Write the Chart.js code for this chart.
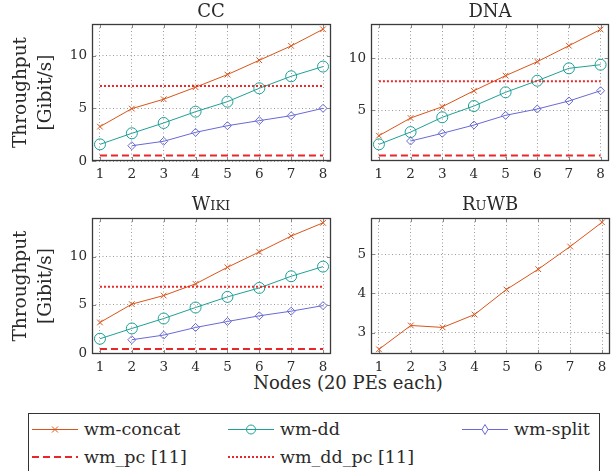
<!DOCTYPE html>
<html>
<head>
<meta charset="utf-8">
<script src="https://cdn.jsdelivr.net/npm/chart.js@4.4.1/dist/chart.umd.min.js"></script>
<style>
  body { margin: 0; background: #fff; width: 615px; height: 471px; position: relative; overflow: hidden;
         font-family: 'DejaVu Serif', serif; color: #2a2a2a; }
  canvas.panel { position: absolute; }
  .ttl { position: absolute; font-size: 18px; line-height: 20px; transform: translateX(-50%); white-space: nowrap; }
  .sc { font-variant: small-caps; }
  #xlabel { position: absolute; left: 348px; top: 373px; font-size: 18px; line-height: 20px; transform: translateX(-50%); white-space: nowrap; }
  #legend { position: absolute; left: 28px; top: 413px; width: 572px; height: 62px; box-sizing: border-box;
            border: 1px solid #333; }
  .entry { position: absolute; height: 20px; font-size: 17.5px; line-height: 20px; white-space: nowrap; }
  .entry canvas { position: absolute; left: 0; top: 3px; }
  .entry span { position: absolute; left: 52px; top: 0; }
</style>
</head>
<body>
<div id="xlabel">Nodes (20 PEs each)</div>
<div id="legend"></div>
<script>
// values (Gibit/s)
var nodes = [1, 2, 3, 4, 5, 6, 7, 8]
var xTicks = [1, 2, 3, 4, 5, 6, 7, 8]
var seriesNames = ['wm-concat', 'wm-dd', 'wm-split', 'wm_pc [11]', 'wm_dd_pc [11]']

var ccConcat = [3.26, 4.97, 5.86, 7.0, 8.2, 9.56, 10.92, 12.5]
var ccDD = [1.58, 2.63, 3.61, 4.68, 5.63, 6.9, 8.04, 8.96]
var ccSplit = [null, 1.45, 1.87, 2.72, 3.35, 3.83, 4.3, 5.0]
var ccPC = 0.52
var ccDDPC = 7.12
var ccYTicks = [0, 5, 10]

var dnaConcat = [2.52, 4.23, 5.32, 6.87, 8.33, 9.68, 11.23, 12.8]
var dnaDD = [1.68, 2.87, 4.3, 5.39, 6.72, 7.84, 9.04, 9.39]
var dnaSplit = [null, 2.0, 2.75, 3.55, 4.49, 5.1, 5.88, 6.87]
var dnaPC = 0.6
var dnaDDPC = 7.78
var dnaYTicks = [5, 10]

var wikiConcat = [3.17, 5.07, 5.96, 7.17, 8.89, 10.48, 12.13, 13.5]
var wikiDD = [1.48, 2.55, 3.58, 4.72, 5.82, 6.75, 7.96, 8.96]
var wikiSplit = [null, 1.38, 1.86, 2.65, 3.27, 3.86, 4.34, 4.92]
var wikiPC = 0.41
var wikiDDPC = 6.86
var wikiYTicks = [0, 5, 10]

var ruwbConcat = [2.57, 3.18, 3.13, 3.46, 4.1, 4.62, 5.2, 5.82]
var ruwbYTicks = [3, 4, 5]

var cConcat = 'rgb(217, 84, 26)'
var cDD = 'rgb(30, 160, 150)'
var cSplit = 'rgb(104, 104, 214)'
var cPC = 'rgb(232, 40, 40)'
var gridColor = 'rgba(120, 120, 120, 0.75)'
var textColor = '#2a2a2a'
var fontFamily = "'DejaVu Serif', serif"

function markSet(label, values, color, style, radius) {
  return {
    label: label,
    data: nodes.map(function (n, i) { return { x: n, y: values[i] } }),
    borderColor: color,
    backgroundColor: 'rgba(0,0,0,0)',
    borderWidth: 1,
    pointStyle: style,
    pointRadius: radius,
    pointBorderColor: color,
    pointBorderWidth: 1,
    pointBackgroundColor: 'rgba(0,0,0,0)',
    tension: 0
  }
}

function flatSet(label, value, color, dash) {
  return {
    label: label,
    data: [{ x: nodes[0], y: value }, { x: nodes[nodes.length - 1], y: value }],
    borderColor: color,
    borderWidth: 2,
    borderDash: dash,
    pointRadius: 0,
    tension: 0
  }
}

// box around plot area plus inward tick marks, pgfplots style
var framePlugin = {
  id: 'frame',
  afterDraw: function (chart) {
    var a = chart.chartArea
    var ctx = chart.ctx
    var sx = chart.scales.x
    var sy = chart.scales.y
    ctx.save()
    ctx.strokeStyle = '#8a8a8a'
    ctx.lineWidth = 1
    ctx.beginPath()
    sx.ticks.forEach(function (t) {
      var px = Math.round(sx.getPixelForValue(t.value)) + 0.5
      ctx.moveTo(px, a.top); ctx.lineTo(px, a.top + 4)
      ctx.moveTo(px, a.bottom); ctx.lineTo(px, a.bottom - 4)
    })
    sy.ticks.forEach(function (t) {
      var py = Math.round(sy.getPixelForValue(t.value)) + 0.5
      ctx.moveTo(a.left, py); ctx.lineTo(a.left + 4, py)
      ctx.moveTo(a.right, py); ctx.lineTo(a.right - 4, py)
    })
    ctx.stroke()
    ctx.strokeStyle = '#3a3a3a'
    ctx.lineWidth = 1.3
    ctx.strokeRect(Math.round(a.left) + 0.5, Math.round(a.top) + 0.5, Math.round(a.width) - 1, Math.round(a.height) - 1)
    ctx.restore()
  }
}

function makePanel(p) {
  var canvas = document.createElement('canvas')
  canvas.className = 'panel'
  canvas.width = p.w
  canvas.height = p.h
  canvas.style.left = p.left + 'px'
  canvas.style.top = p.top + 'px'
  document.body.appendChild(canvas)

  var title = document.createElement('div')
  title.className = 'ttl'
  title.innerHTML = p.title
  title.style.left = p.titleX + 'px'
  title.style.top = p.titleY + 'px'
  document.body.appendChild(title)

  new Chart(canvas.getContext('2d'), {
    type: 'line',
    data: { datasets: p.datasets },
    plugins: [framePlugin],
    options: {
      responsive: false,
      animation: false,
      layout: { padding: { top: p.padTop, right: p.padRight, left: 0, bottom: 0 } },
      plugins: { legend: { display: false }, tooltip: { enabled: false } },
      scales: {
        x: {
          type: 'linear',
          min: 0.75,
          max: 8.25,
          afterBuildTicks: function (s) { s.ticks = xTicks.map(function (v) { return { value: v } }) },
          afterFit: function (s) { s.height = p.xHeight },
          grid: { color: gridColor, lineWidth: 1, drawTicks: false },
          border: { display: false, dash: [1, 2.5] },
          ticks: { color: textColor, padding: 5, maxRotation: 0, font: { family: fontFamily, size: 13.5 } }
        },
        y: {
          type: 'linear',
          min: p.yMin,
          max: p.yMax,
          afterBuildTicks: function (s) { s.ticks = p.yTicks.map(function (v) { return { value: v } }) },
          afterFit: function (s) { s.width = p.yWidth },
          grid: { color: gridColor, lineWidth: 1, drawTicks: false },
          border: { display: false, dash: [1, 2.5] },
          ticks: { color: textColor, padding: 5, font: { family: fontFamily, size: 13.5 } },
          title: {
            display: p.yTitle,
            text: ['Throughput', '[Gibit/s]'],
            color: textColor,
            font: { family: fontFamily, size: 18.5, lineHeight: 25 / 18.5 },
            padding: { top: 9, bottom: 0 }
          }
        }
      }
    }
  })
}

function threeSeries(concat, dd, split, pc, ddpc) {
  return [
    flatSet(seriesNames[3], pc, cPC, [7, 4]),
    flatSet(seriesNames[4], ddpc, cPC, [2, 2]),
    markSet(seriesNames[2], split, cSplit, 'rectRot', 4),
    markSet(seriesNames[1], dd, cDD, 'circle', 5.5),
    markSet(seriesNames[0], concat, cConcat, 'crossRot', 4)
  ]
}

makePanel({ title: 'CC', left: 0, top: 0, w: 340, h: 190, titleX: 211, titleY: 1,
  padTop: 24, padRight: 9, xHeight: 29, yWidth: 92, yTitle: true,
  yMin: 0, yMax: 13, yTicks: ccYTicks,
  datasets: threeSeries(ccConcat, ccDD, ccSplit, ccPC, ccDDPC) })

makePanel({ title: 'DNA', left: 340, top: 0, w: 275, h: 190, titleX: 490, titleY: 1,
  padTop: 24, padRight: 5, xHeight: 29, yWidth: 31, yTitle: false,
  yMin: 0.07, yMax: 13.33, yTicks: dnaYTicks,
  datasets: threeSeries(dnaConcat, dnaDD, dnaSplit, dnaPC, dnaDDPC) })

makePanel({ title: '<span class="sc">Wiki</span>', left: 0, top: 190, w: 340, h: 190, titleX: 211, titleY: 194,
  padTop: 28, padRight: 9, xHeight: 26, yWidth: 92, yTitle: true,
  yMin: -0.1, yMax: 14, yTicks: wikiYTicks,
  datasets: threeSeries(wikiConcat, wikiDD, wikiSplit, wikiPC, wikiDDPC) })

makePanel({ title: '<span class="sc">RuWB</span>', left: 340, top: 190, w: 275, h: 190, titleX: 490, titleY: 194,
  padTop: 28, padRight: 5, xHeight: 26, yWidth: 31, yTitle: false,
  yMin: 2.45, yMax: 5.93, yTicks: ruwbYTicks,
  datasets: [markSet(seriesNames[0], ruwbConcat, cConcat, 'crossRot', 4)] })

// legend, built from the series names
var legendItems = [
  { name: seriesNames[0], color: cConcat, mark: 'cross', col: 0, row: 0 },
  { name: seriesNames[1], color: cDD, mark: 'circle', col: 1, row: 0 },
  { name: seriesNames[2], color: cSplit, mark: 'diamond', col: 2, row: 0 },
  { name: seriesNames[3], color: cPC, dash: [7, 4], col: 0, row: 1 },
  { name: seriesNames[4], color: cPC, dash: [2, 2], col: 1, row: 1 }
]
var colX = [3, 199, 433]
var rowY = [5, 33]
var legend = document.getElementById('legend')
legendItems.forEach(function (it) {
  var div = document.createElement('div')
  div.className = 'entry'
  div.style.left = colX[it.col] + 'px'
  div.style.top = rowY[it.row] + 'px'
  var c = document.createElement('canvas')
  c.width = 46; c.height = 14
  var g = c.getContext('2d')
  g.strokeStyle = it.color
  if (it.dash) {
    g.lineWidth = 2
    g.setLineDash(it.dash)
    g.beginPath(); g.moveTo(0, 7); g.lineTo(46, 7); g.stroke()
  } else {
    g.lineWidth = 1
    g.beginPath(); g.moveTo(0, 7.5); g.lineTo(46, 7.5); g.stroke()
    g.beginPath()
    if (it.mark === 'cross') {
      g.moveTo(20, 4.5); g.lineTo(26, 10.5); g.moveTo(26, 4.5); g.lineTo(20, 10.5)
    } else if (it.mark === 'circle') {
      g.arc(23, 7.5, 4.5, 0, Math.PI * 2)
    } else {
      g.moveTo(23, 2.5); g.lineTo(26, 7.5); g.lineTo(23, 12.5); g.lineTo(20, 7.5); g.closePath()
      g.fillStyle = '#fff'; g.fill()
    }
    g.stroke()
  }
  var s = document.createElement('span')
  s.textContent = it.name
  div.appendChild(c)
  div.appendChild(s)
  legend.appendChild(div)
})
</script>
</body>
</html>
